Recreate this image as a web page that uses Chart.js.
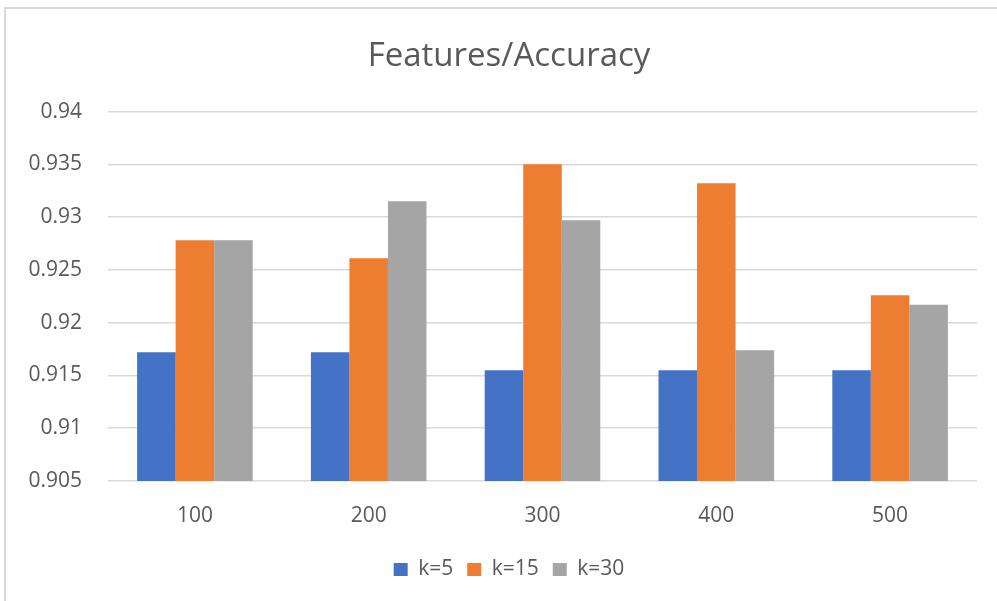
<!DOCTYPE html>
<html>
<head>
<meta charset="utf-8">
<script src="https://cdn.jsdelivr.net/npm/chart.js@4.4.1/dist/chart.umd.min.js"></script>
<style>
    html, body { margin: 0; padding: 0; background: #ffffff; }
    #wrap { position: relative; width: 997px; height: 601px; }
    #frame {
        position: absolute; left: 4px; top: 7px; right: -2px; bottom: -2px;
        border-left: 2px solid #d9d9d9; border-top: 2px solid #d9d9d9;
        pointer-events: none;
    }
</style>
</head>
<body>
<div id="wrap">
    <canvas id="accuracy-chart" width="997" height="601"></canvas>
    <div id="frame"></div>
</div>
<script>
// Number of features per run
const featureCounts = ['100', '200', '300', '400', '500'];

// Accuracy for each neighbour count
const accK5  = [0.9172, 0.9172, 0.9155, 0.9155, 0.9155];
const accK15 = [0.9278, 0.9261, 0.9350, 0.9332, 0.9226];
const accK30 = [0.9278, 0.9315, 0.9297, 0.9174, 0.9217];

// Value axis ticks
const yTicks = [0.905, 0.91, 0.915, 0.92, 0.925, 0.93, 0.935, 0.94];

const textGrey = '#595959';
const gridGrey = '#d9d9d9';
const fontFamily = "'Open Sans', Lato, sans-serif";

function barSet(label, data, color) {
    return {
        label: label,
        data: data,
        backgroundColor: color,
        borderWidth: 0,
        categoryPercentage: 0.665,
        barPercentage: 1.0
    };
}

document.addEventListener('DOMContentLoaded', function() {
    Chart.defaults.font.family = fontFamily;
    Chart.defaults.color = textGrey;

    const ctx = document.getElementById('accuracy-chart');
    new Chart(ctx, {
        type: 'bar',
        data: {
            labels: featureCounts,
            datasets: [
                barSet('k=5', accK5, '#4472c4'),
                barSet('k=15', accK15, '#ed7d31'),
                barSet('k=30', accK30, '#a5a5a5')
            ]
        },
        options: {
            responsive: false,
            animation: false,
            // the frame runs past the right edge, so title and legend sit right of centre
            layout: { padding: { left: 0, right: -21, top: 0, bottom: 11 } },
            scales: {
                x: {
                    afterFit: function(axis) { axis.height = 64; },
                    grid: { display: false, drawTicks: false },
                    border: { display: false },
                    ticks: { padding: 22, font: { size: 21 }, color: textGrey }
                },
                y: {
                    min: yTicks[0],
                    max: yTicks[yTicks.length - 1],
                    afterBuildTicks: function(axis) {
                        axis.ticks = yTicks.map(v => ({ value: v }));
                    },
                    afterFit: function(axis) { axis.width = 108; },
                    grid: { color: gridGrey, lineWidth: 1.5, drawTicks: false },
                    border: { display: false },
                    ticks: {
                        padding: 26,
                        font: { size: 21 },
                        color: textGrey,
                        callback: function(value) {
                            return String(parseFloat(value.toFixed(3)));
                        }
                    }
                },
                // empty right-hand spacer that keeps the plot's right edge at x=977
                spacer: {
                    type: 'linear',
                    position: 'right',
                    afterFit: function(axis) { axis.width = 41; },
                    grid: { display: false, drawTicks: false },
                    border: { display: false },
                    ticks: { display: false }
                }
            },
            plugins: {
                title: {
                    display: true,
                    text: 'Features/Accuracy',
                    color: textGrey,
                    font: { size: 33, weight: 'normal' },
                    padding: { top: 37, bottom: 35 }
                },
                legend: {
                    position: 'bottom',
                    labels: {
                        boxWidth: 14,
                        boxHeight: 13,
                        padding: 14,
                        font: { size: 21 },
                        color: textGrey
                    }
                },
                tooltip: { enabled: false }
            }
        }
    });
});
</script>
</body>
</html>
